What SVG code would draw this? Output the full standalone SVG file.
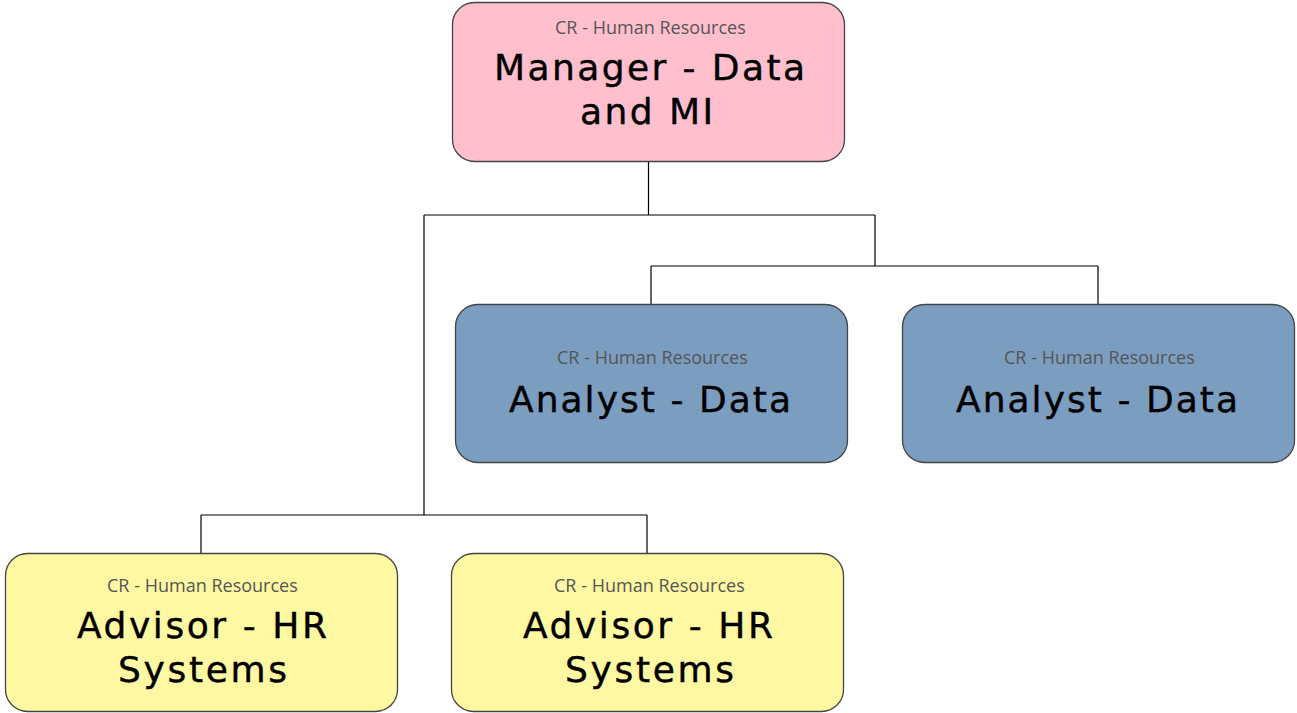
<svg xmlns="http://www.w3.org/2000/svg" width="1297" height="713" viewBox="0 0 1297 713">
<style>
.box{stroke:#444;stroke-width:1.3}
.pink{fill:#ffbfcd}
.blue{fill:#7b9dc0}
.yellow{fill:#fff8a2}
.sub{font-family:"Open Sans","Noto Sans",sans-serif;font-size:18px;fill:#555;text-anchor:middle;letter-spacing:-0.8px}
.main{font-family:"DejaVu Sans","Verdana",sans-serif;font-size:36px;fill:#000;text-anchor:middle;stroke:#000;stroke-width:0.4}
.conn{stroke:#000;stroke-width:1.2;fill:none}
</style>
<rect width="1297" height="713" fill="#fff"/>
<g id="connectors">
<path class="conn" d="M648.5 162V215M424 215H875M875 215V266M651 266H1098M651 266V304M1098 266V304M424 215V515M201 515H647M201 515V553M647 515V553"/>
</g>
<g id="manager">
<rect class="box pink" x="452.5" y="2.5" width="392" height="159" rx="22"/>
<text class="sub" x="650" y="34" textLength="190">CR - Human Resources</text>
<text class="main" x="649.5" y="80" textLength="311">Manager - Data</text>
<text class="main" x="646.5" y="124" textLength="133">and MI</text>
</g>
<g id="analyst1">
<rect class="box blue" x="455.5" y="304.5" width="392" height="158" rx="22"/>
<text class="sub" x="652" y="364" textLength="190">CR - Human Resources</text>
<text class="main" x="650" y="412" textLength="282">Analyst - Data</text>
</g>
<g id="analyst2">
<rect class="box blue" x="902.5" y="304.5" width="392" height="158" rx="22"/>
<text class="sub" x="1099" y="364" textLength="190">CR - Human Resources</text>
<text class="main" x="1097" y="412" textLength="282">Analyst - Data</text>
</g>
<g id="advisor1">
<rect class="box yellow" x="5.5" y="553.5" width="392" height="158" rx="22"/>
<text class="sub" x="202" y="592" textLength="190">CR - Human Resources</text>
<text class="main" x="202" y="638" textLength="250">Advisor - HR</text>
<text class="main" x="202.5" y="682" textLength="169">Systems</text>
</g>
<g id="advisor2">
<rect class="box yellow" x="451.5" y="553.5" width="392" height="158" rx="22"/>
<text class="sub" x="649" y="592" textLength="190">CR - Human Resources</text>
<text class="main" x="648" y="638" textLength="250">Advisor - HR</text>
<text class="main" x="649.5" y="682" textLength="169">Systems</text>
</g>
</svg>
